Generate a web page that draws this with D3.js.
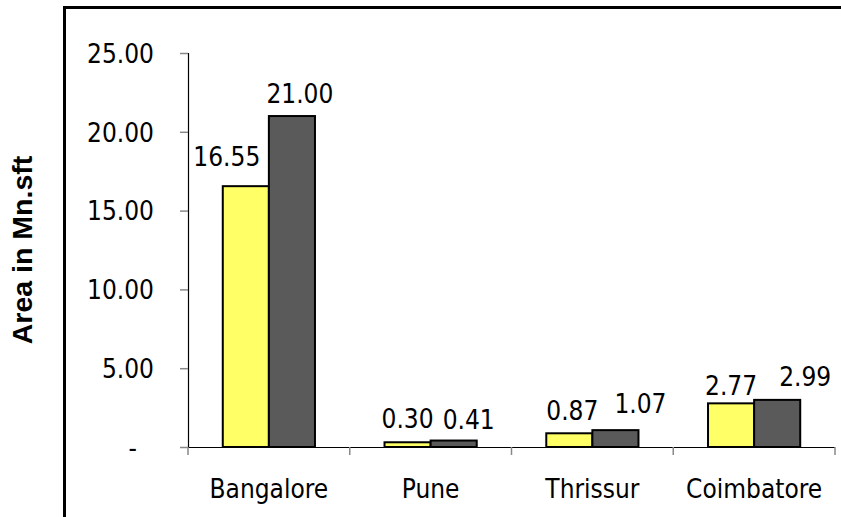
<!DOCTYPE html>
<html>
<head>
<meta charset="utf-8">
<script src="https://cdn.jsdelivr.net/npm/d3@7/dist/d3.min.js"></script>
<style>
  html, body { margin: 0; padding: 0; background: #fff; }
  svg { display: block; }
  text { font-family: "DejaVu Sans Condensed", "DejaVu Sans", sans-serif; fill: #000; }
</style>
</head>
<body>
<svg id="chart" width="841" height="517"></svg>
<script>
// Cities and the two area series (Mn. sq ft)
const cities = ["Bangalore", "Pune", "Thrissur", "Coimbatore"];
const seriesA = [16.55, 0.30, 0.87, 2.77];
const seriesB = [21.00, 0.41, 1.07, 2.99];
const yTicks = [0, 5, 10, 15, 20, 25];
const yTickLabels = ["-", "5.00", "10.00", "15.00", "20.00", "25.00"];

// Hand-placed label offsets (dx, gap above bar top) for each series
const nudgeA = [[-19, 20], [0, 14], [3, 13], [0, 8]];
const nudgeB = [[8, 13], [15, 12], [25, 17], [28, 14]];

const svg = d3.select("#chart");
const W = 841, H = 517;
const plot = { left: 188, right: 835, top: 53, bottom: 447 };
const FS = 26;

svg.append("rect").attr("width", W).attr("height", H).attr("fill", "#fff");

// Outer chart frame (runs off the right and bottom edges)
svg.append("path")
  .attr("d", `M64.5,${H + 5} V7.5 H${W + 5}`)
  .attr("fill", "none").attr("stroke", "#000").attr("stroke-width", 3);

const x0 = d3.scaleBand().domain(cities)
  .range([plot.left, plot.right])
  .paddingInner(0.43).paddingOuter(0.215);
const x1 = d3.scaleBand().domain(["A", "B"]).range([0, x0.bandwidth()]);
const y = d3.scaleLinear().domain([0, 25]).range([plot.bottom, plot.top]);

// Y axis
const yAxis = d3.axisLeft(y).tickValues(yTicks)
  .tickFormat((d, i) => yTickLabels[i]).tickSize(8).tickPadding(26);
const gy = svg.append("g").attr("transform", `translate(${plot.left},0)`).call(yAxis);
gy.select(".domain").attr("stroke", "#000").attr("stroke-width", 1.2)
  .attr("d", `M0.5,${plot.top}V${plot.bottom}`);
gy.selectAll(".tick line").attr("stroke", "#888").attr("stroke-width", 1.5);
gy.selectAll(".tick text").attr("font-size", FS).attr("dy", "0.36em")
  .attr("dx", d => d === 0 ? -17 : 0)
  .style("font-family", '"DejaVu Sans Condensed", sans-serif');

// X axis with category boundary ticks
const gx = svg.append("g").attr("transform", `translate(0,${plot.bottom})`);
gx.append("line").attr("x1", plot.left).attr("x2", plot.right)
  .attr("y1", 0.5).attr("y2", 0.5).attr("stroke", "#000").attr("stroke-width", 1.2);
const bounds = cities.map(c => x0(c) - x0.step() * x0.paddingOuter())
  .concat([plot.right]);
gx.selectAll("line.bt").data(bounds).join("line").attr("class", "bt")
  .attr("x1", d => d).attr("x2", d => d).attr("y1", 0).attr("y2", 8)
  .attr("stroke", "#888").attr("stroke-width", 1.5);
gx.selectAll("text.cat").data(cities).join("text").attr("class", "cat")
  .attr("x", d => x0(d) + x0.bandwidth() / 2).attr("y", 51)
  .attr("text-anchor", "middle").attr("font-size", FS).text(d => d);

// Bars
const series = [
  { key: "A", values: seriesA, fill: "#FFFF66", nudge: nudgeA },
  { key: "B", values: seriesB, fill: "#5A5A5A", nudge: nudgeB }
];
series.forEach(s => {
  const g = svg.append("g");
  g.selectAll("rect").data(s.values).join("rect")
    .attr("x", (d, i) => x0(cities[i]) + x1(s.key))
    .attr("y", d => y(d))
    .attr("width", x1.bandwidth())
    .attr("height", d => y(0) - y(d))
    .attr("fill", s.fill).attr("stroke", "#000").attr("stroke-width", 2);
  g.selectAll("text").data(s.values).join("text")
    .attr("x", (d, i) => x0(cities[i]) + x1(s.key) + x1.bandwidth() / 2 + s.nudge[i][0])
    .attr("y", (d, i) => y(d) - s.nudge[i][1])
    .attr("text-anchor", "middle").attr("font-size", FS)
    .text(d => d.toFixed(2));
});

// Y axis title
svg.append("text")
  .attr("transform", `translate(32,${(plot.top + plot.bottom) / 2}) rotate(-90)`)
  .attr("text-anchor", "middle").attr("font-size", 28.5).attr("font-weight", "bold")
  .style("font-family", '"Liberation Sans", Arial, sans-serif')
  .text("Area in Mn.sft");
</script>
</body>
</html>
